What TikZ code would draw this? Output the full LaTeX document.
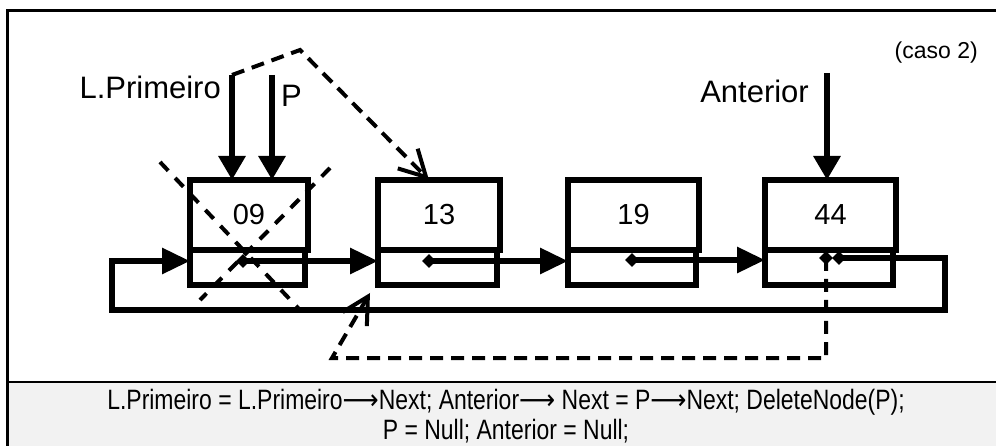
\documentclass[tikz,border=0pt]{standalone}
\usepackage{fontspec}
\setmainfont{Liberation Sans}
\newfontfamily\narrowsans[FakeStretch=0.82]{Liberation Sans}
\newfontfamily\arrowsans[FakeStretch=0.9]{DejaVu Sans}
\usetikzlibrary{arrows.meta, shapes.geometric}
\newcommand{\ptrarrow}{{\arrowsans ⟶}}

\begin{document}
\begin{tikzpicture}[x=1pt, y=-1pt,
        frame/.style={line width=3pt, draw=black},
        datacell/.style={draw, line width=6pt, minimum height=70pt, inner sep=0pt, outer sep=0pt, anchor=north west, font=\fontsize{29}{29}\selectfont},
        nextcell/.style={draw, line width=6pt, minimum height=35pt, inner sep=0pt, outer sep=0pt, anchor=north west},
        dot/.style={diamond, fill=black, inner sep=0pt, minimum size=14pt},
        link/.style={line width=6pt, -{Triangle[length=28pt, width=25pt]}},
        pointer/.style={line width=6pt, -{Triangle[length=24pt, width=26pt]}},
        newlink/.style={line width=4pt, dash pattern=on 13pt off 8pt, -{Straight Barb[length=26pt, width=28pt, line width=4pt]}},
        crossout/.style={line width=4pt, dash pattern=on 12pt off 10pt},
        label/.style={font=\fontsize{31}{31}\selectfont, inner sep=0pt},
        caption/.style={font=\narrowsans\fontsize{28}{33}\selectfont, inner sep=0pt}
    ]
        \useasboundingbox (0,0) rectangle (996,446);
        % Moldura e faixa cinza do codigo
        \fill[gray!10] (7,382) rectangle (996,446);
        \draw[frame] (7,446) -- (7,11) -- (996,11);
        \draw[line width=2pt] (7,382) -- (996,382);

        % Nos da lista (dado em cima, proximo em baixo)
        \node[datacell, minimum width=118pt] (d09) at (190,180) {09};
        \node[nextcell, minimum width=115pt] (n09) at (190,250) {};
        \node[datacell, minimum width=122pt] (d13) at (378,180) {13};
        \node[nextcell, minimum width=119pt] (n13) at (378,250) {};
        \node[datacell, minimum width=131pt] (d19) at (568,180) {19};
        \node[nextcell, minimum width=128pt] (n19) at (568,250) {};
        \node[datacell, minimum width=131pt] (d44) at (765,180) {44};
        \node[nextcell, minimum width=128pt] (n44) at (765,250) {};

        % Pontos dos campos Next
        \node[dot] (dot09) at (243,261) {};
        \node[dot] (dot13) at (429,261) {};
        \node[dot] (dot19) at (632,260) {};
        \node[dot] (dot44a) at (826,258) {};
        \node[dot] (dot44b) at (839,258) {};

        % Ponteiros externos
        \coordinate (lpTop) at (232,75);
        \coordinate (pTop) at (272,75);
        \coordinate (antTop) at (827,73);
        \node[label, anchor=base east] (lblPrimeiro) at (221,99) {L.Primeiro};
        \node[label, anchor=base west] (lblP) at (281,107) {P};
        \node[label, anchor=base east] (lblAnterior) at (809,103) {Anterior};
        \node[font=\fontsize{23}{23}\selectfont, inner sep=0pt, anchor=base east] (lblCaso) at (978,59) {(caso 2)};
        \draw[pointer] (lpTop) -- (lpTop |- d09.north);
        \draw[pointer] (pTop) -- (pTop |- d09.north);
        \draw[pointer] (antTop) -- (antTop |- d44.north);

        % Encadeamento atual
        \draw[link] (dot09.center) -- (dot09.center -| n13.west);
        \draw[link] (dot13.center) -- (dot13.center -| n19.west);
        \draw[link] (dot19.center) -- (dot19.center -| n44.west);
        \coordinate (loopR) at (945,310);
        \coordinate (loopL) at (112,310);
        \draw[link] (dot44b.center) -| (loopR) -- (loopL) |- (dot09.center -| n09.west);

        % No removido (riscado)
        \draw[crossout] (160,162) -- (299,309);
        \draw[crossout] (330,168) -- (200,300);

        % Novas ligacoes (tracejadas)
        \coordinate (bend) at (300,50);
        \draw[newlink] (lpTop) -- (bend) -- (dot13 |- d13.north);
        \coordinate (dashL) at (332,358);
        \coordinate (tipNew) at (370,293);
        \draw[newlink] (dot44a.center) |- (dashL) -- (tipNew);

        % Codigo
        \node[caption, anchor=base] (cap1) at (506,409) {L.Primeiro = L.Primeiro\ptrarrow Next; Anterior\ptrarrow\ Next = P\ptrarrow Next; DeleteNode(P);};
        \node[caption, anchor=base] (cap2) at (506,439) {P = Null; Anterior = Null;};
    \end{tikzpicture}
\end{document}
